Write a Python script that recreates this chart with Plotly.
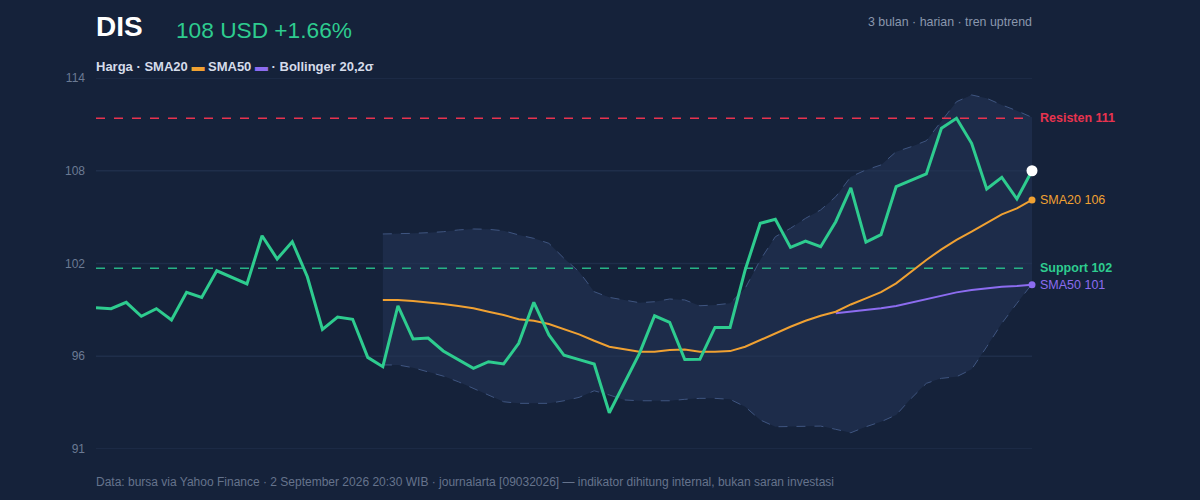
import plotly.graph_objects as go

# daily closes, 63 trading days
price = [99.76, 99.70, 100.09, 99.23, 99.70, 99.00, 100.71, 100.40, 102.05, 101.64,
         101.23, 104.22, 102.78, 103.85, 101.68, 98.42, 99.18, 99.04, 96.68, 96.10,
         99.88, 97.82, 97.88, 97.08, 96.56, 96.00, 96.41, 96.27, 97.55, 100.09,
         98.07, 96.81, 96.54, 96.27, 93.25, 95.07, 96.93, 99.26, 98.85, 96.55,
         96.56, 98.54, 98.54, 102.10, 104.99, 105.24, 103.50, 103.89, 103.54, 105.09,
         107.19, 103.83, 104.29, 107.26, 107.68, 108.05, 110.88, 111.50, 109.95, 107.12,
         107.84, 106.50, 108.25]
days = list(range(len(price)))

# SMA20 and bollinger from day 19
sma20 = [100.24, 100.24, 100.17, 100.09, 99.99, 99.86, 99.72, 99.51, 99.31, 99.04,
         98.95, 98.75, 98.42, 98.11, 97.71, 97.34, 97.18, 97.03, 97.03, 97.14,
         97.17, 97.03, 97.03, 97.07, 97.34, 97.76, 98.21, 98.58, 98.95, 99.26,
         99.51, 99.96, 100.34, 100.73, 101.27, 101.99, 102.72, 103.38, 103.96, 104.47,
         104.99, 105.55, 105.92, 106.44]
bb_upper = [104.33, 104.33, 104.37, 104.41, 104.47, 104.58, 104.64, 104.62, 104.53, 104.27,
            104.06, 103.75, 102.82, 101.99, 100.75, 100.40, 100.24, 100.07, 100.13, 100.30,
            100.24, 99.88, 99.93, 100.03, 100.96, 102.72, 104.16, 104.68, 105.30, 105.82,
            106.64, 107.88, 108.30, 108.61, 109.43, 109.74, 110.11, 111.29, 112.53, 112.95,
            112.74, 112.33, 111.97, 111.56]
bb_lower = [96.21, 96.21, 96.04, 95.79, 95.52, 95.17, 94.76, 94.35, 93.93, 93.83,
            93.83, 93.83, 93.99, 94.20, 94.61, 94.35, 94.04, 93.99, 93.99, 93.99,
            94.08, 94.14, 94.14, 94.08, 93.62, 92.80, 92.38, 92.38, 92.42, 92.42,
            92.22, 92.01, 92.38, 92.69, 93.11, 94.14, 95.07, 95.38, 95.48, 95.94,
            97.34, 98.79, 100.03, 101.23]
days20 = days[19:]

# SMA50 from day 49
sma50 = [99.41, 99.51, 99.62, 99.72, 99.86, 100.07, 100.30, 100.50, 100.71, 100.86,
         100.96, 101.06, 101.10, 101.18]
days50 = days[49:]

resistance = 111.5
support = 102.2

y_ticks = [91, 96.75, 102.5, 108.25, 114]
y_labels = ["91", "96", "102", "108", "114"]

BG = "#15223a"
GREEN = "#2ecc8f"
ORANGE = "#f0a132"
PURPLE = "#8c6cf0"
RED = "#e8334f"
BAND = "#3f5580"
GRID = "#1f2e4a"
FONT = "'Liberation Sans', Arial, Helvetica, sans-serif"

fig = go.Figure()

# grid drawn as shapes so the edge lines (91 / 114) show too
for t in y_ticks:
    fig.add_hline(y=t, line=dict(color=GRID, width=1.5), layer="below")

fig.add_trace(go.Scatter(x=days20, y=bb_lower, mode="lines",
                         line=dict(color=BAND, width=1, dash="dash"), hoverinfo="skip"))
fig.add_trace(go.Scatter(x=days20, y=bb_upper, mode="lines", fill="tonexty",
                         fillcolor="rgba(35,52,85,0.6)",
                         line=dict(color=BAND, width=1, dash="dash"), hoverinfo="skip"))

fig.add_trace(go.Scatter(x=[days[0], days[-1]], y=[resistance, resistance], mode="lines",
                         line=dict(color=RED, width=1.5, dash="dash")))
fig.add_trace(go.Scatter(x=[days[0], days[-1]], y=[support, support], mode="lines",
                         line=dict(color="#27b386", width=1.5, dash="dash")))

fig.add_trace(go.Scatter(x=days50, y=sma50, mode="lines", line=dict(color=PURPLE, width=2)))
fig.add_trace(go.Scatter(x=days20, y=sma20, mode="lines", line=dict(color=ORANGE, width=2)))
fig.add_trace(go.Scatter(x=days, y=price, mode="lines", line=dict(color=GREEN, width=3)))

fig.add_trace(go.Scatter(x=[days50[-1]], y=[sma50[-1]], mode="markers", cliponaxis=False,
                         marker=dict(color=PURPLE, size=7)))
fig.add_trace(go.Scatter(x=[days20[-1]], y=[sma20[-1]], mode="markers", cliponaxis=False,
                         marker=dict(color=ORANGE, size=7)))
fig.add_trace(go.Scatter(x=[days[-1]], y=[price[-1]], mode="markers", cliponaxis=False,
                         marker=dict(color="white", size=11)))

right_labels = [
    (resistance, "<b>Resisten 111</b>", RED),
    (sma20[-1], "SMA20 106", ORANGE),
    (support, "<b>Support 102</b>", GREEN),
    (sma50[-1], "SMA50 101", PURPLE),
]
annotations = []
for yv, txt, col in right_labels:
    annotations.append(dict(x=days[-1], y=yv, xref="x", yref="y", text=txt, showarrow=False,
                            xanchor="left", xshift=6, font=dict(color=col, size=12.5, family=FONT)))

annotations += [
    dict(x=0, y=1.14, xref="paper", yref="paper", xanchor="left", yanchor="middle", xshift=-2,
         text="<b>DIS</b>", showarrow=False, font=dict(color="white", size=28, family=FONT)),
    dict(x=0.083, y=1.13, xref="paper", yref="paper", xanchor="left", yanchor="middle",
         text="108 USD +1.66%", showarrow=False, font=dict(color=GREEN, size=22.7, family=FONT)),
    dict(x=1, y=1.15, xref="paper", yref="paper", xanchor="right", yanchor="middle", xshift=2,
         text="3 bulan · harian · tren uptrend", showarrow=False,
         font=dict(color="#8a97ad", size=12.4, family=FONT)),
    dict(x=0, y=1.03, xref="paper", yref="paper", xanchor="left", yanchor="middle", xshift=-2,
         text="<b>Harga · SMA20 <span style='color:%s'>▬</span> SMA50 "
              "<span style='color:%s'>▬</span> · Bollinger 20,2σ</b>" % (ORANGE, PURPLE),
         showarrow=False, font=dict(color="#d5dcea", size=13, family=FONT)),
    dict(x=0, y=-0.09, xref="paper", yref="paper", xanchor="left", yanchor="middle", xshift=-2,
         text="Data: bursa via Yahoo Finance · 2 September 2026 20:30 WIB · journalarta [09032026]"
              " — indikator dihitung internal, bukan saran investasi",
         showarrow=False, font=dict(color="#65738c", size=12, family=FONT)),
]

fig.update_layout(
    width=1200, height=500,
    margin=dict(l=96, r=168, t=78, b=51),
    paper_bgcolor=BG, plot_bgcolor=BG,
    showlegend=False,
    font=dict(family=FONT),
    xaxis=dict(range=[days[0], days[-1]], visible=False, showgrid=False, zeroline=False),
    yaxis=dict(range=[91, 114], tickvals=y_ticks, ticktext=y_labels,
               showgrid=False, zeroline=False, showline=False,
               tickfont=dict(color="#6b7a93", size=12), ticklabelstandoff=10),
    annotations=annotations,
)

fig.write_html("out.html", config={"displayModeBar": False},
               post_script="document.body.style.margin='0';")
